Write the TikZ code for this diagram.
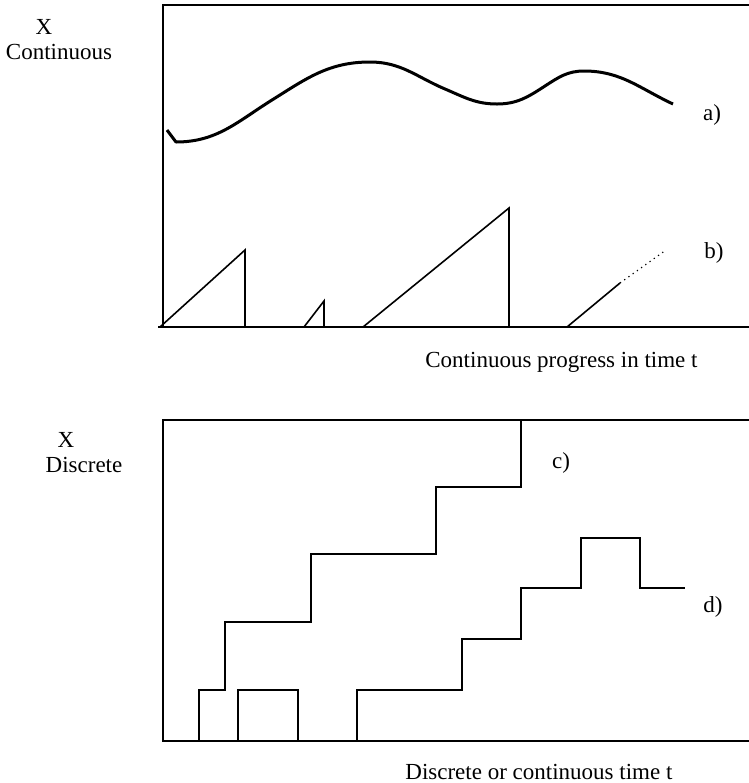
\documentclass[tikz,border=0pt]{standalone}
\usepackage{fontspec}
\setmainfont{Liberation Serif}
\begin{document}
\begin{tikzpicture}[x=0.5pt,y=-0.5pt,
  frame/.style={line width=1pt},
  wave/.style={line width=1.5pt, line join=round},
  ramp/.style={line width=0.8pt},
  stair/.style={line width=1pt},
  lbl/.style={inner sep=0pt, font=\fontsize{11.5}{13.5}\selectfont}]
\useasboundingbox (0,0) rectangle (749,783);

% upper panel: continuous state
\draw[frame] (749,5) -- (163,5) -- (163,327);
\draw[frame] (158,327) -- (749,327);
\node[lbl] (xc)    at (44,27) {X};
\node[lbl] (cont)  at (59,52) {Continuous};

% a) continuously varying value
\draw[wave] (167,130) -- (176,142)
  to[out=0,in=212] (272,100)
  to[out=32,in=180] (370,62)
  to[out=0,in=157] (445,89)
  to[out=-23,in=180] (497,104)
  to[out=0,in=213] (545,86)
  to[out=33,in=180] (584,71)
  to[out=0,in=155] (673,104);
\node[lbl] (la) at (712,115) {a)};

% b) saw-tooth ramps
\draw[ramp] (160,327) -- (245,250) -- (245,327);
\draw[ramp] (304,327) -- (324,301) -- (324,327);
\draw[ramp] (363,327) -- (509,208) -- (509,327);
\coordinate (r4a) at (567,327);
\coordinate (r4b) at (620,283);
\coordinate (r4c) at (666,250);
\draw[ramp] (r4a) -- (r4b);
\draw[line width=0.6pt, dotted] (r4b) -- (r4c);
\node[lbl] (lb) at (714,253) {b)};

\node[lbl, anchor=west] (tcont) at (425,362) {Continuous progress in time t};

% lower panel: discrete state
\draw[frame] (749,420) -- (163,420) -- (163,741) -- (749,741);
\node[lbl] (xd)   at (66,440) {X};
\node[lbl] (disc) at (84,465) {Discrete};

% c) rising staircase
\draw[stair] (199,741) -- (199,690) -- (225,690) -- (225,622) -- (311,622) -- (311,554)
  -- (436,554) -- (436,487) -- (521,487) -- (521,420);
\node[lbl] (lc) at (561,463) {c)};

% single pulse
\draw[stair] (238,741) -- (238,690) -- (298,690) -- (298,741);

% d) second staircase
\draw[stair] (357,741) -- (357,690) -- (462,690) -- (462,639) -- (521,639) -- (521,588)
  -- (581,588) -- (581,538) -- (640,538) -- (640,588) -- (685,588);
\node[lbl] (ld) at (713,607) {d)};

\node[lbl, anchor=west] (tdisc) at (405,772) {Discrete or continuous time t};
\end{tikzpicture}
\end{document}
